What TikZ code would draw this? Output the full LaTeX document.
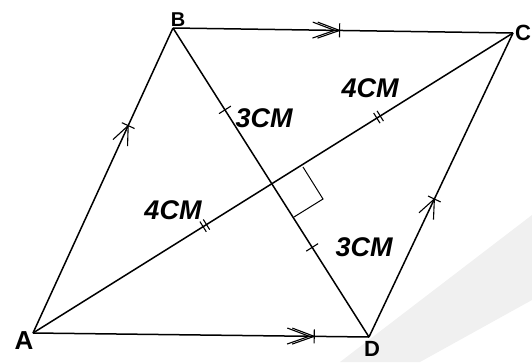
\documentclass[tikz,border=0pt]{standalone}
\usepackage{fontspec}
\setmainfont{Liberation Sans}
\usetikzlibrary{decorations.markings}
\tikzset{
  edge/.style={line width=1.5pt, black},
  vlabel/.style={font=\fontsize{22}{22}\selectfont\bfseries, inner sep=0pt},
  mlabel/.style={font=\fontsize{27}{27}\selectfont\bfseries\itshape, inner sep=0pt},
  markline/.style={line width=1.1pt},
}
\begin{document}
\begin{tikzpicture}[x=1pt,y=-1pt]
\useasboundingbox (0,0) rectangle (532,362);
% faint background band
\fill[gray!12] (340,362) -- (532,215) -- (532,300) -- (420,362) -- cycle;
\coordinate (A) at (33,333);
\coordinate (B) at (173,28);
\coordinate (C) at (513,33);
\coordinate (D) at (369,337);
\coordinate (O) at (273,185);
% sides with parallel marks
\draw[edge, postaction={decorate}, decoration={markings,
  mark=at position 0.68 with {\draw[markline] (-19,-8)--(0,0)--(-19,8); \draw[markline] (0,-7)--(0,7);}}] (A) -- (B);
\draw[edge, postaction={decorate}, decoration={markings,
  mark=at position 0.454 with {\draw[markline] (-19,-8)--(0,0)--(-19,8); \draw[markline] (0,-7)--(0,7);}}] (D) -- (C);
\draw[edge, postaction={decorate}, decoration={markings,
  mark=at position 0.49 with {\draw[markline] (-22,-8)--(0,0)--(-22,8); \draw[markline] (-27,-8)--(-5,0)--(-27,8); \draw[markline] (0,-7)--(0,7);}}] (B) -- (C);
\draw[edge, postaction={decorate}, decoration={markings,
  mark=at position 0.837 with {\draw[markline] (-22,-8)--(0,0)--(-22,8); \draw[markline] (-27,-8)--(-5,0)--(-27,8); \draw[markline] (0,-7)--(0,7);}}] (A) -- (D);
% diagonals
\draw[edge, postaction={decorate}, decoration={markings,
  mark=at position 0.358 with {\draw[markline] (-2,-6)--(-2,6); \draw[markline] (2,-6)--(2,6);},
  mark=at position 0.72 with {\draw[markline] (-2,-6)--(-2,6); \draw[markline] (2,-6)--(2,6);}}] (A) -- (C);
\draw[edge, postaction={decorate}, decoration={markings,
  mark=at position 0.265 with {\draw[markline] (0,-7)--(0,7);},
  mark=at position 0.71 with {\draw[markline] (0,-7)--(0,7);}}] (B) -- (D);
% right angle
\draw[line width=1pt] (303,167) -- (323,199) -- (294,217);
% vertex labels
\node[vlabel, font=\fontsize{26}{26}\selectfont\bfseries] (lA) at (24,341) {A};
\node[vlabel, font=\fontsize{20}{20}\selectfont\bfseries] (lB) at (178,20) {B};
\node[vlabel] (lC) at (523,33) {C};
\node[vlabel] (lD) at (372,349) {D};
% measure labels
\node[mlabel] (m1) at (264,118) {3CM};
\node[mlabel] (m2) at (364,247) {3CM};
\node[mlabel] (m3) at (173,210) {4CM};
\node[mlabel] (m4) at (370,88) {4CM};
\end{tikzpicture}
\end{document}
